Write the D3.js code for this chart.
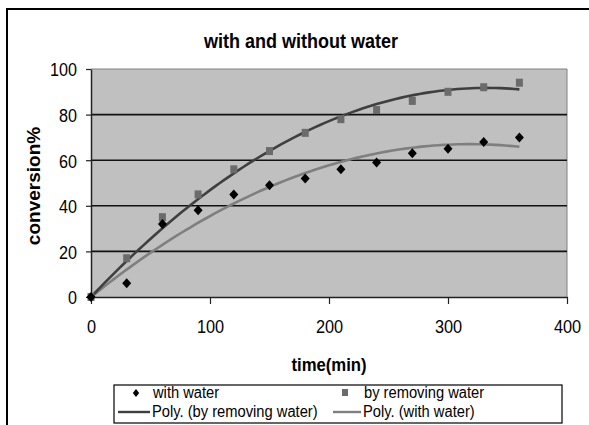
<!DOCTYPE html>
<html>
<head>
<meta charset="utf-8">
<script src="https://cdn.jsdelivr.net/npm/d3@7"></script>
<style>
  body { margin: 0; background: #fff; }
  svg { display: block; font-family: "Liberation Sans", Arial, sans-serif; }
</style>
</head>
<body>
<svg id="chart" width="589" height="425"></svg>
<script>
// data
const times = [0, 30, 60, 90, 120, 150, 180, 210, 240, 270, 300, 330, 360];
const withWater = [0, 6, 32, 38, 45, 49, 52, 56, 59, 63, 65, 68, 70];
const removingWater = [0, 17, 35, 45, 56, 64, 72, 78, 82, 86, 90, 92, 94];
const xTicks = [0, 100, 200, 300, 400];
const yTicks = [0, 20, 40, 60, 80, 100];

const svg = d3.select('#chart');
const margin = {top: 69, right: 22, bottom: 128, left: 91};
const W = 589, H = 425;

// outer chart frame (right / bottom edge lie outside the picture)
svg.append('rect')
  .attr('x', 7).attr('y', 9).attr('width', 700).attr('height', 500)
  .attr('fill', 'none').attr('stroke', '#000').attr('stroke-width', 2);

const x = d3.scaleLinear().domain([0, 400]).range([margin.left, W - margin.right]);
const y = d3.scaleLinear().domain([0, 100]).range([H - margin.bottom, margin.top]);

// plot area
svg.append('rect')
  .attr('x', x(0)).attr('y', y(100))
  .attr('width', x(400) - x(0)).attr('height', y(0) - y(100))
  .attr('fill', '#c0c0c0');
svg.append('path')
  .attr('d', `M${x(0)},${y(100)}H${x(400)}V${y(0)}`)
  .attr('fill', 'none').attr('stroke', '#808080').attr('stroke-width', 1);

// grid lines
svg.append('g')
  .selectAll('line')
  .data(yTicks.filter(d => d > 0 && d < 100))
  .join('line')
    .attr('x1', x(0)).attr('x2', x(400))
    .attr('y1', d => y(d)).attr('y2', d => y(d))
    .attr('stroke', '#111').attr('stroke-width', 1.6);

// squish helper: the original text is tall and narrow
function squish(sel, sx) {
  sel.each(function() {
    const t = d3.select(this);
    const tx = +t.attr('x') || 0;
    t.attr('x', 0).attr('transform', `translate(${tx},0) scale(${sx},1)`);
  });
}

// axes
const yAxis = svg.append('g')
  .attr('transform', `translate(${x(0)},0)`)
  .call(d3.axisLeft(y).tickValues(yTicks).tickSize(5).tickPadding(9).tickSizeOuter(0));
const xAxis = svg.append('g')
  .attr('transform', `translate(0,${y(0)})`)
  .call(d3.axisBottom(x).tickValues(xTicks).tickSize(7).tickPadding(16).tickSizeOuter(0));

[yAxis, xAxis].forEach(a => {
  a.select('.domain').attr('stroke', '#222').attr('stroke-width', 1.5);
  a.selectAll('.tick line').attr('stroke', '#222').attr('stroke-width', 1.2);
  a.selectAll('.tick text')
    .attr('fill', '#000')
    .style('font-family', '"Liberation Sans", Arial, sans-serif')
    .style('font-size', '19px');
});
yAxis.selectAll('.tick text').attr('dy', '0.36em').call(squish, 0.85);
xAxis.selectAll('.tick text').call(squish, 0.86);

// polynomial trendline (order 2, through origin) fitted to each series
function fit(xs, ys) {
  let s2 = 0, s3 = 0, s4 = 0, sxy = 0, sx2y = 0;
  xs.forEach((t, i) => {
    s2 += t * t; s3 += t ** 3; s4 += t ** 4;
    sxy += t * ys[i]; sx2y += t * t * ys[i];
  });
  const det = s2 * s4 - s3 * s3;
  const a = (sxy * s4 - s3 * sx2y) / det;
  const b = (s2 * sx2y - s3 * sxy) / det;
  return t => a * t + b * t * t;
}
const sample = d3.range(0, 361, 4);
const line = d3.line().x(d => x(d[0])).y(d => y(d[1]));

const fWith = fit(times, withWater);
const fRem = fit(times, removingWater);

svg.append('path')
  .datum(sample.map(t => [t, fWith(t)]))
  .attr('d', line)
  .attr('fill', 'none').attr('stroke', '#7f7f7f').attr('stroke-width', 2.6);
svg.append('path')
  .datum(sample.map(t => [t, fRem(t)]))
  .attr('d', line)
  .attr('fill', 'none').attr('stroke', '#3f3f3f').attr('stroke-width', 2.6);

// markers
const diamond = (w, h) => `M0,${-h}L${w},0L0,${h}L${-w},0Z`;

svg.append('g')
  .selectAll('rect')
  .data(times.map((t, i) => [t, removingWater[i]]))
  .join('rect')
    .attr('x', d => x(d[0]) - 3.5)
    .attr('y', d => y(d[1]) - 4)
    .attr('width', 7).attr('height', 8)
    .attr('fill', '#6b6b6b');

svg.append('g')
  .selectAll('path')
  .data(times.map((t, i) => [t, withWater[i]]))
  .join('path')
    .attr('transform', d => `translate(${x(d[0])},${y(d[1])})`)
    .attr('d', diamond(4.5, 5))
    .attr('fill', '#000');

// titles
svg.append('text')
  .attr('x', 301).attr('y', 48)
  .attr('text-anchor', 'middle')
  .style('font-size', '20px').style('font-weight', 'bold')
  .text('with and without water')
  .call(squish, 0.9);

svg.append('text')
  .attr('x', (x(0) + x(400)) / 2).attr('y', 371)
  .attr('text-anchor', 'middle')
  .style('font-size', '19px').style('font-weight', 'bold')
  .text('time(min)')
  .call(squish, 0.88);

svg.append('text')
  .attr('transform', 'translate(40,186) rotate(-90)')
  .attr('text-anchor', 'middle')
  .style('font-size', '19px').style('font-weight', 'bold')
  .text('conversion%');

// legend
const lg = svg.append('g');
lg.append('rect')
  .attr('x', 114).attr('y', 385).attr('width', 448).attr('height', 38)
  .attr('fill', '#fff').attr('stroke', '#000').attr('stroke-width', 1.2);

const legendItems = [
  {label: 'with water', kind: 'diamond', sx: 136, tx: 153, row: 0},
  {label: 'by removing water', kind: 'square', sx: 345, tx: 364, row: 0},
  {label: 'Poly. (by removing water)', kind: 'line', color: '#3f3f3f', sx: 118, tx: 152, row: 1},
  {label: 'Poly. (with water)', kind: 'line', color: '#7f7f7f', sx: 333, tx: 363, row: 1}
];
const rowBase = [398, 417];

legendItems.forEach(it => {
  const base = rowBase[it.row];
  if (it.kind === 'diamond') {
    lg.append('path')
      .attr('transform', `translate(${it.sx},${base - 5})`)
      .attr('d', diamond(3.2, 4)).attr('fill', '#000');
  } else if (it.kind === 'square') {
    lg.append('rect')
      .attr('x', it.sx - 3).attr('y', base - 9).attr('width', 6).attr('height', 7)
      .attr('fill', '#6b6b6b');
  } else {
    lg.append('line')
      .attr('x1', it.sx).attr('x2', it.tx - 2)
      .attr('y1', base - 5).attr('y2', base - 5)
      .attr('stroke', it.color).attr('stroke-width', 2.4);
  }
  lg.append('text')
    .attr('x', it.tx).attr('y', base)
    .style('font-size', '16px')
    .text(it.label)
    .call(squish, 0.92);
});
</script>
</body>
</html>
